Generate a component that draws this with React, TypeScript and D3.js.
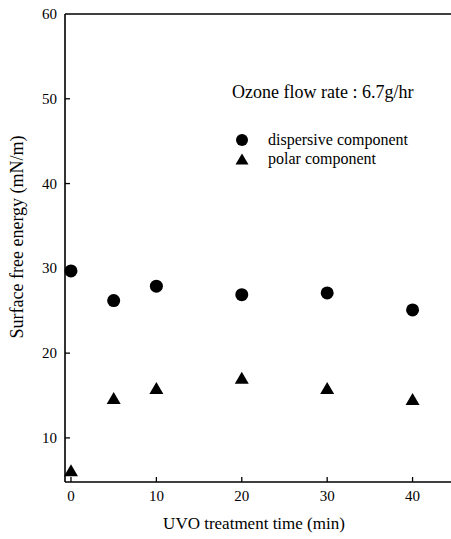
import React from "react";
import * as d3 from "d3";

const times = [0, 5, 10, 20, 30, 40];
const dispersive = [29.7, 26.2, 27.9, 26.9, 27.1, 25.1];
const polar = [6.2, 14.7, 15.9, 17.1, 15.9, 14.6];
const xTicks = [0, 10, 20, 30, 40];
const yTicks = [10, 20, 30, 40, 50, 60];
const legendTitle = "Ozone flow rate : 6.7g/hr";
const seriesNames = ["dispersive component", "polar component"];
const xLabel = "UVO treatment time (min)";
const yLabel = "Surface free energy (mN/m)";

const W = 451;
const H = 539;
const FONT = "'Liberation Serif', 'Times New Roman', serif";

export default function App() {
  const x = d3.scaleLinear().domain([-0.7, 44.5]).range([65, 451]);
  const y = d3.scaleLinear().domain([4.8, 60]).range([482, 14]);
  const [x0, x1] = x.range();
  const [yb, yt] = y.range();

  const tri = (cx: number, cy: number, w = 14, h = 12) => {
    const p = d3.path();
    p.moveTo(cx, cy - h / 2);
    p.lineTo(cx + w / 2, cy + h / 2);
    p.lineTo(cx - w / 2, cy + h / 2);
    p.closePath();
    return p.toString();
  };

  return (
    <svg
      width={W}
      height={H}
      style={{ position: "absolute", left: 0, top: 0, background: "#fff" }}
      fontFamily={FONT}
    >
      <rect x={0} y={0} width={W} height={H} fill="#fff" />
      {/* axes */}
      <line x1={x0} y1={yt} x2={x0} y2={yb} stroke="#000" strokeWidth={1.6} />
      <line x1={x0} y1={yb} x2={x1} y2={yb} stroke="#000" strokeWidth={1.6} />
      <line x1={x0} y1={yt} x2={x1} y2={yt} stroke="#000" strokeWidth={1.6} />
      {yTicks.map((t) => (
        <g key={"y" + t}>
          {t < 60 && (
            <line x1={x0} x2={x0 + 5} y1={y(t)} y2={y(t)} stroke="#000" strokeWidth={1.3} />
          )}
          <text x={57} y={y(t) + 5} textAnchor="end" fontSize={15} fill="#000">
            {t}
          </text>
        </g>
      ))}
      {xTicks.map((t) => (
        <g key={"x" + t}>
          <line x1={x(t)} x2={x(t)} y1={yb} y2={yb - 5} stroke="#000" strokeWidth={1.3} />
          <text x={x(t)} y={501} textAnchor="middle" fontSize={15} fill="#000">
            {t}
          </text>
        </g>
      ))}
      <text x={254} y={529} textAnchor="middle" fontSize={17} fill="#000">
        {xLabel}
      </text>
      <text
        transform={`translate(23,237) rotate(-90)`}
        textAnchor="middle"
        fontSize={18}
        fill="#000"
      >
        {yLabel}
      </text>
      {/* data */}
      {times.map((t, i) => (
        <circle key={"d" + i} cx={x(t)} cy={y(dispersive[i])} r={6.5} fill="#000" />
      ))}
      {times.map((t, i) => (
        <path key={"p" + i} d={tri(x(t), y(polar[i]))} fill="#000" />
      ))}
      {/* legend */}
      <text x={232} y={98} fontSize={18} fill="#000">
        {legendTitle}
      </text>
      <circle cx={242} cy={140} r={6} fill="#000" />
      <path d={tri(242, 159, 13, 11)} fill="#000" />
      <text x={268} y={145} fontSize={16} fill="#000">
        {seriesNames[0]}
      </text>
      <text x={268} y={164} fontSize={16} fill="#000">
        {seriesNames[1]}
      </text>
    </svg>
  );
}
